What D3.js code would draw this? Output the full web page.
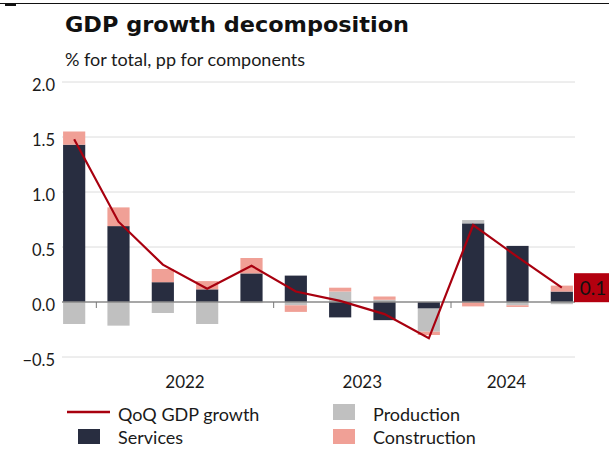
<!DOCTYPE html>
<html>
<head>
<meta charset="utf-8">
<script src="https://cdn.jsdelivr.net/npm/d3@7"></script>
<style>
  html, body { margin: 0; padding: 0; background: #fff; }
  svg { display: block; }
  text { font-family: Lato, "Open Sans", sans-serif; fill: #1a1a1a; }
</style>
</head>
<body>
<svg id="chart" width="609" height="450"></svg>
<script>
// Quarterly GDP growth and contributions by sector
const quarters = ["2021 Q4", "2022 Q1", "2022 Q2", "2022 Q3", "2022 Q4",
                  "2023 Q1", "2023 Q2", "2023 Q3", "2023 Q4",
                  "2024 Q1", "2024 Q2", "2024 Q3"];
const services     = [1.43, 0.69, 0.18, 0.115, 0.26, 0.24, -0.14, -0.165, -0.06, 0.715, 0.51, 0.095];
const production   = [-0.20, -0.215, -0.10, -0.20, -0.01, -0.03, 0.095, 0.02, -0.21, 0.03, -0.03, -0.02];
const construction = [0.12, 0.17, 0.12, 0.075, 0.14, -0.06, 0.035, 0.03, -0.03, -0.04, -0.015, 0.054];
const gdpGrowth    = [1.48, 0.73, 0.34, 0.12, 0.33, 0.095, 0.01, -0.11, -0.33, 0.70, 0.41, 0.13];
const yTicks = [-0.5, 0, 0.5, 1.0, 1.5, 2.0];
const seriesNames = ["Services", "Production", "Construction"];
const colors = { Services: "#282d40", Production: "#c0c0c0", Construction: "#f0a096", line: "#a8000f" };

const rows = quarters.map((q, i) => ({
  quarter: q,
  Services: services[i],
  Production: production[i],
  Construction: construction[i],
  gdp: gdpGrowth[i]
}));

const svg = d3.select("#chart");

// top rule
svg.append("line").attr("x1", 0).attr("x2", 609).attr("y1", 3.5).attr("y2", 3.5)
  .attr("stroke", "#111").attr("stroke-width", 1.2);
svg.append("rect").attr("x", 5).attr("y", 3).attr("width", 11).attr("height", 3).attr("fill", "#111");

// titles
const title = svg.append("text").attr("x", 65).attr("y", 32)
  .style("font-family", "'DejaVu Sans', sans-serif").style("font-weight", "bold")
  .style("font-size", "21px").style("fill", "#111")
  .text("GDP growth decomposition");
title.attr("textLength", 344).attr("lengthAdjust", "spacingAndGlyphs");

svg.append("text").attr("x", 65).attr("y", 66)
  .style("font-size", "18px").text("% for total, pp for components");

// scales
const x = d3.scaleBand().domain(quarters).range([52, 584]).paddingInner(0.5).paddingOuter(0.25);
const y = d3.scaleLinear().domain([-0.5, 2.0]).range([357, 82]);

// gridlines
const gridX0 = 62, gridX1 = 575;
svg.append("g").selectAll("line").data(yTicks.filter(d => d !== 0)).join("line")
  .attr("x1", gridX0).attr("x2", gridX1)
  .attr("y1", d => y(d)).attr("y2", d => y(d))
  .attr("stroke", "#dcdcdc").attr("stroke-width", 1);

// y axis labels
const yAxis = d3.axisLeft(y).tickValues(yTicks).tickFormat(d3.format(".1f")).tickSize(0).tickPadding(0);
const yg = svg.append("g").attr("transform", "translate(55,0)").call(yAxis);
yg.select(".domain").remove();
yg.selectAll("text").style("font-family", "Lato, sans-serif").style("font-size", "16.5px")
  .attr("fill", "#1a1a1a").attr("dy", "0.5em");

// stacked bars
const stack = d3.stack().keys(seriesNames).offset(d3.stackOffsetDiverging);
const layers = stack(rows);
svg.append("g").selectAll("g").data(layers).join("g")
  .attr("fill", d => colors[d.key])
  .selectAll("rect").data(d => d).join("rect")
  .attr("x", d => x(d.data.quarter))
  .attr("width", x.bandwidth())
  .attr("y", d => y(Math.max(d[0], d[1])))
  .attr("height", d => Math.abs(y(d[0]) - y(d[1])));

// zero line
svg.append("line").attr("x1", gridX0).attr("x2", gridX1).attr("y1", y(0)).attr("y2", y(0))
  .attr("stroke", "#8a8a8a").attr("stroke-width", 1.5);

// year boundary ticks and labels
const years = ["2022", "2023", "2024"];
const center = q => x(q) + x.bandwidth() / 2;
const yearInfo = years.map(yr => {
  const qs = quarters.filter(q => q.startsWith(yr));
  const i0 = quarters.indexOf(qs[0]);
  const start = (center(quarters[i0 - 1]) + center(qs[0])) / 2;
  const last = quarters.indexOf(qs[qs.length - 1]);
  const end = last + 1 < quarters.length
    ? (center(quarters[last]) + center(quarters[last + 1])) / 2
    : center(quarters[last]);
  return { yr, start, end };
});
svg.append("g").selectAll("line").data(yearInfo).join("line")
  .attr("x1", d => d.start).attr("x2", d => d.start)
  .attr("y1", y(0)).attr("y2", y(0) + 6)
  .attr("stroke", "#777").attr("stroke-width", 1);
svg.append("g").selectAll("text").data(yearInfo).join("text")
  .attr("x", d => (d.start + d.end) / 2).attr("y", 388)
  .attr("text-anchor", "middle").style("font-size", "17px")
  .text(d => d.yr);

// GDP growth line
const line = d3.line().x(d => center(d.quarter)).y(d => y(d.gdp));
svg.append("path").datum(rows).attr("d", line)
  .attr("fill", "none").attr("stroke", colors.line).attr("stroke-width", 2.2)
  .attr("stroke-linejoin", "miter");

// latest value label
const lastRow = rows[rows.length - 1];
const ly = y(lastRow.gdp);
svg.append("rect").attr("x", 574).attr("y", ly - 14.5).attr("width", 40).attr("height", 29)
  .attr("fill", "#b3000f");
svg.append("text").attr("x", 593).attr("y", ly).attr("dy", "0.36em")
  .attr("text-anchor", "middle").style("font-size", "19px").style("fill", "#111")
  .text(d3.format(".1f")(lastRow.gdp));

// legend
const lg = svg.append("g");
lg.append("line").attr("x1", 67).attr("x2", 110).attr("y1", 412).attr("y2", 412)
  .attr("stroke", colors.line).attr("stroke-width", 2.5);
lg.append("text").attr("x", 118).attr("y", 421).style("font-size", "18px").text("QoQ GDP growth");
lg.append("rect").attr("x", 78).attr("y", 429).attr("width", 22).attr("height", 15).attr("fill", colors.Services);
lg.append("text").attr("x", 118).attr("y", 444).style("font-size", "18px").text("Services");
lg.append("rect").attr("x", 333).attr("y", 404).attr("width", 22).attr("height", 16).attr("fill", colors.Production);
lg.append("text").attr("x", 373).attr("y", 421).style("font-size", "18px").text("Production");
lg.append("rect").attr("x", 333).attr("y", 429).attr("width", 22).attr("height", 15).attr("fill", colors.Construction);
lg.append("text").attr("x", 373).attr("y", 444).style("font-size", "18px").text("Construction");
</script>
</body>
</html>
